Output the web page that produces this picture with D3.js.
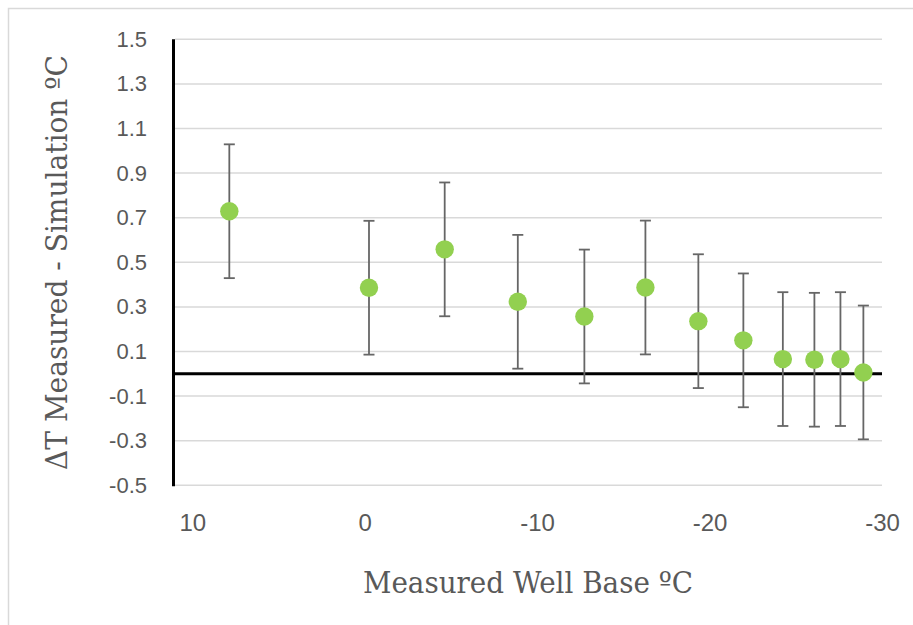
<!DOCTYPE html>
<html>
<head>
<meta charset="utf-8">
<script src="https://cdn.jsdelivr.net/npm/d3@7/dist/d3.min.js"></script>
<style>
  html, body { margin: 0; padding: 0; background: #fff; }
  svg { display: block; }
</style>
</head>
<body>
<svg id="chart" width="913" height="625"></svg>
<script>
// Measured well base temperature (ºC) for each well
const wellBase = [7.85, -0.25, -4.64, -8.88, -12.74, -16.28, -19.35, -21.96, -24.25, -26.08, -27.59, -28.92];
// ΔT = measured - simulated (ºC)
const deltaT = [0.729, 0.386, 0.558, 0.323, 0.257, 0.387, 0.236, 0.150, 0.066, 0.063, 0.066, 0.006];
// Uncertainty on ΔT (ºC, symmetric)
const deltaErr = [0.3, 0.3, 0.3, 0.3, 0.3, 0.3, 0.3, 0.3, 0.3, 0.3, 0.3, 0.3];

const xTicks = [10, 0, -10, -20, -30];
const yTicks = [-0.5, -0.3, -0.1, 0.1, 0.3, 0.5, 0.7, 0.9, 1.1, 1.3, 1.5];

const xTitle = "Measured Well Base ºC";
const yTitle = "ΔT Measured - Simulation ºC";

const svg = d3.select("#chart");

const plot = { left: 175, right: 882, top: 39.3, bottom: 485.3 };

const x = d3.scaleLinear().domain([11, -30]).range([plot.left, plot.right]);
const y = d3.scaleLinear().domain([-0.5, 1.5]).range([plot.bottom, plot.top]);

// plain hyphen-minus for negative numbers
const locale = d3.formatLocale({ decimal: ".", thousands: ",", grouping: [3], currency: ["", ""], minus: "-" });

const grey = "#595959";

// outer chart frame
svg.append("rect")
  .attr("x", 8.5).attr("y", 8.5)
  .attr("width", 1200).attr("height", 1200)
  .attr("fill", "none")
  .attr("stroke", "#d9d9d9")
  .attr("stroke-width", 1.5);

// horizontal gridlines
svg.append("g")
  .selectAll("line")
  .data(yTicks)
  .join("line")
  .attr("x1", plot.left).attr("x2", plot.right)
  .attr("y1", d => y(d)).attr("y2", d => y(d))
  .attr("stroke", "#d9d9d9")
  .attr("stroke-width", 1.5);

// y axis labels
const yAxis = d3.axisLeft(y)
  .tickValues(yTicks)
  .tickFormat(locale.format(".1f"))
  .tickSize(0)
  .tickPadding(28);
const gy = svg.append("g")
  .attr("transform", `translate(${plot.left},0)`)
  .call(yAxis);
gy.select(".domain").remove();
gy.selectAll("text")
  .attr("fill", grey)
  .style("font-family", "'Liberation Sans', Arial, sans-serif")
  .style("font-size", "22px");

// x axis labels
const xAxis = d3.axisBottom(x)
  .tickValues(xTicks)
  .tickFormat(locale.format("d"))
  .tickSize(0)
  .tickPadding(0);
const gx = svg.append("g")
  .attr("transform", `translate(0,${plot.bottom})`)
  .call(xAxis);
gx.select(".domain").remove();
gx.selectAll("text")
  .attr("fill", grey)
  .attr("dy", null)
  .attr("y", 46)
  .style("font-family", "'Liberation Sans', Arial, sans-serif")
  .style("font-size", "24px");

// vertical axis line
svg.append("line")
  .attr("x1", plot.left - 1.5).attr("x2", plot.left - 1.5)
  .attr("y1", plot.top).attr("y2", plot.bottom + 1)
  .attr("stroke", "#000")
  .attr("stroke-width", 3);

// zero reference line
svg.append("line")
  .attr("x1", plot.left - 3).attr("x2", plot.right)
  .attr("y1", y(0)).attr("y2", y(0))
  .attr("stroke", "#000")
  .attr("stroke-width", 3);

const pts = wellBase.map((v, i) => ({ x: v, y: deltaT[i], e: deltaErr[i] }));

// error bars
const eb = svg.append("g")
  .attr("stroke", "#666")
  .attr("stroke-width", 1.8)
  .attr("fill", "none");
const capHalf = 5.5;
pts.forEach(p => {
  const cx = x(p.x), yt = y(p.y + p.e), yb = y(p.y - p.e);
  eb.append("line").attr("x1", cx).attr("x2", cx).attr("y1", yt).attr("y2", yb);
  eb.append("line").attr("x1", cx - capHalf).attr("x2", cx + capHalf).attr("y1", yt).attr("y2", yt);
  eb.append("line").attr("x1", cx - capHalf).attr("x2", cx + capHalf).attr("y1", yb).attr("y2", yb);
});

// data markers
svg.append("g")
  .selectAll("circle")
  .data(pts)
  .join("circle")
  .attr("cx", d => x(d.x))
  .attr("cy", d => y(d.y))
  .attr("r", 9.2)
  .attr("fill", "#92d050");

// axis titles
svg.append("text")
  .attr("x", 363).attr("y", 593)
  .attr("textLength", 330)
  .attr("lengthAdjust", "spacingAndGlyphs")
  .attr("fill", grey)
  .style("font-family", "'DejaVu Serif', serif")
  .style("font-size", "30px")
  .text(xTitle);

svg.append("text")
  .attr("transform", "translate(67,470) rotate(-90)")
  .attr("x", 0).attr("y", 0)
  .attr("textLength", 415)
  .attr("lengthAdjust", "spacingAndGlyphs")
  .attr("fill", grey)
  .style("font-family", "'DejaVu Serif', serif")
  .style("font-size", "30px")
  .text(yTitle);
</script>
</body>
</html>
